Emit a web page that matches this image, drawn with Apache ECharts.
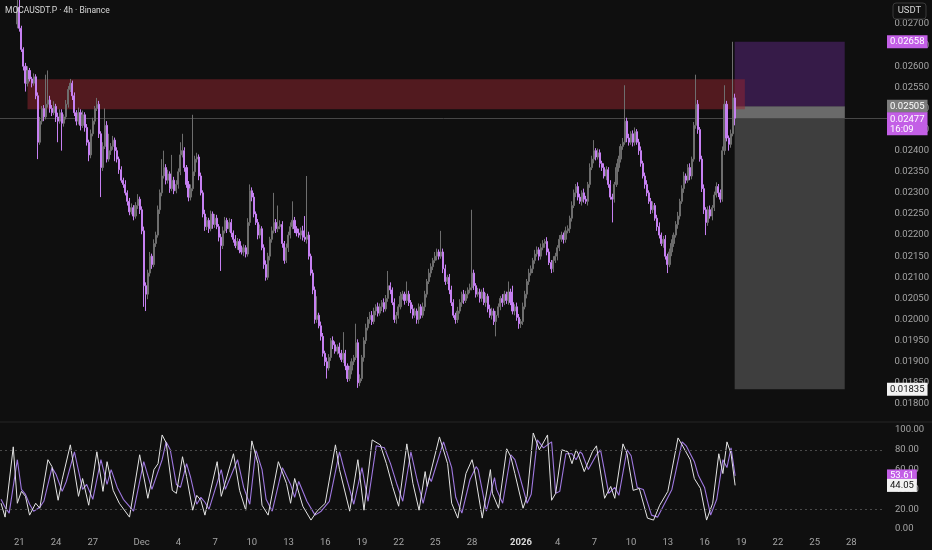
<!DOCTYPE html>
<html><head><meta charset="utf-8">
<script src="https://cdn.jsdelivr.net/npm/echarts@6/dist/echarts.min.js"></script>
<style>html,body{margin:0;padding:0;background:#0f0f0f;}#c{width:932px;height:550px;}</style>
</head><body><div id="c"></div>
<script>
// ---------- data ----------
const symbolTitle = 'MOCAUSDT.P · 4h · Binance';
const quoteCurrency = 'USDT';
const startTimeUTC = Date.UTC(2025, 10, 19, 12); // first 4h slot of the axis
const slotCount = 434;            // 4h slots shown on the time axis
const firstCandleSlot = 8;
const priceUnit = 1e-5;           // closes / wicks are in units of 0.00001 USDT
const firstOpen = 2700;
const closes = [
 2740,2690,2640,2600,2560,2590,2570,2560,2575,2530,
 2420,2470,2500,2480,2510,2520,2500,2490,2505,2480,
 2470,2490,2465,2480,2510,2545,2560,2530,2490,2470,
 2490,2460,2485,2455,2420,2390,2440,2470,2500,2510,
 2440,2360,2410,2460,
 2380,2400,2410,2425,2400,2380,2355,2330,2320,2300,
 2280,2255,2265,2245,2270,2285,2260,2210,2080,2060,
 2110,2150,2130,2180,2200,2260,2300,2340,2360,2330,
 2345,2310,2330,2305,2320,2350,2390,2400,2360,2320,
 2290,2310,2350,2380,2385,2340,2300,2250,2220,2235,
 2215,
 2250,2225,2240,2220,2195,2175,2210,2235,2215,2230,
 2205,2190,2175,2185,2165,2160,2170,2155,2230,2305,
 2290,2250,2230,2200,2215,2170,2130,2100,2150,2190,
 2210,2230,2215,2220,2225,2180,2140,2170,2200,2220,
 2235,2215,2205,2200,2210,2195,2190,2200,2150,2110,
 2070,
 2000,2010,1985,1960,1920,1900,1885,1910,1950,1940,
 1925,1935,1920,1905,1920,1890,1860,1880,1900,1910,
 1945,1850,1860,1910,1950,1980,2000,2010,1995,2020,
 2030,2015,2030,2040,2025,2050,2080,2070,2040,2000,
 2010,2030,2055,2060,2045,2060,2040,2025,2010,2020,
 2000,
 2030,2010,2030,2060,2090,2110,2125,2140,2150,2160,
 2150,2160,2120,2090,2100,2070,2040,2010,2000,2020,
 2040,2060,2045,2060,2070,2075,2110,2080,2060,2065,
 2050,2065,2040,2055,2025,2010,2020,1995,2010,2030,
 2050,2040,2060,2045,2065,2040,2020,2030,2005,1990,
 1995,2030,2060,2090,2110,2120,2140,2155,2165,2150,
 2170,2180,2185,2160,2135,2120,2140,2150,2170,2190,
 2200,2190,2210,2215,2240,2270,2300,2315,2290,2280,
 2300,2285,2280,2320,2360,2380,2400,2385,2395,2370,
 2360,2340,2355,2320,2290,2285,2320,2360,2380,2410,
 2420,2470,2430,2420,2440,2420,2445,2420,2400,2370,
 2340,2320,2300,2280,2260,2270,2240,2220,2200,2180,
 2190,2150,2130,2160,2180,2200,2225,2245,2280,2310,
 2340,2330,2360,2340,2380,
 2460,2510,2450,2380,2310,2260,2230,2260,2245,2265,
 2295,2315,2300,2285,2400,2510,2430,2415,2440,2525,2477
];
const upperWicks = [
 25,20,6,5,8,10,6,5,8,6, 8,10,6,8,70,70,10,8,12,6, 10,8,8,6,10,8,10,6,8,6, 12,8,10,6,8,6,10,8,6,15, 8,6,10,40,
 10,40,8,10,6,8,6,8,6,10, 6,8,10,6,8,12,6,8,10,8, 8,10,6,10,8,10,8,40,40,8, 10,6,60,8,10,8,30,40,8,6, 8,10,135,8,10,6,8,6,10,8, 6,
 8,6,10,8,6,8,10,8,6,10, 8,6,10,8,6,10,8,6,10,15, 8,10,6,8,10,6,8,10,8,6, 10,70,8,50,10,8,6,10,8,10, 45,8,6,10,8,12,50,140,8,6, 8,
 8,45,6,10,8,6,10,8,6,10, 8,6,10,8,50,8,6,10,8,6, 45,8,10,6,8,10,6,8,10,8, 6,10,8,6,10,8,35,8,6,10, 8,6,10,8,6,30,8,6,10,8, 6,
 8,6,10,8,6,10,8,6,10,8, 6,50,8,10,6,8,10,8,6,10, 8,6,10,8,6,10,150,8,6,10, 8,6,10,8,6,10,8,6,10,8, 6,10,8,6,25,8,40,6,10,8,
 6,10,8,6,10,8,6,10,8,6, 10,8,6,10,8,6,10,8,6,10, 8,6,10,8,6,10,8,6,10,8, 6,10,8,6,10,8,25,6,10,8, 6,10,8,6,10,8,6,10,8,6,
 10,85,8,10,6,8,10,6,8,10, 6,8,10,6,8,10,6,8,10,6, 8,10,6,8,10,6,8,10,6,8, 10,6,8,10,6,
 8,70,10,6,8,10,6,8,10,6, 8,10,6,8,10,45,8,6,10,133,10
];
const lowerWicks = [
 10,8,6,10,20,8,6,10,6,8, 40,6,8,10,6,8,10,8,6,12, 50,6,65,8,6,8,6,10,8,10, 8,12,6,10,8,15,8,6,8,6, 10,70,8,6,
 8,6,10,8,25,8,10,6,8,6, 10,8,6,10,6,8,10,8,50,40, 12,8,10,6,8,6,10,8,6,10, 8,10,6,8,6,10,8,6,10,8, 10,8,6,10,8,10,6,8,10,8, 10,
 6,10,8,6,10,60,8,6,10,8, 10,8,6,10,8,6,10,8,6,8, 10,8,6,10,8,6,10,8,6,10, 8,6,10,8,6,10,8,6,10,8, 6,10,8,6,10,8,6,10,8,6, 10,
 10,8,6,10,8,10,25,6,8,10, 6,8,10,6,8,10,8,6,10,8, 6,12,8,6,10,8,6,10,8,6, 10,8,6,10,8,6,8,10,6,8, 10,8,6,8,10,6,8,10,8,6, 10,
 10,8,6,10,8,6,10,8,6,10, 8,6,10,8,6,10,8,6,10,8, 6,10,8,6,10,8,6,10,8,6, 10,8,6,10,8,6,10,8,35,6, 8,10,6,8,10,6,8,10,8,12,
 10,8,6,10,8,6,10,8,6,10, 8,6,10,8,6,10,8,6,10,8, 6,10,8,6,10,8,6,10,8,6, 10,8,6,10,8,6,10,8,6,10, 8,6,10,8,6,55,8,6,10,8,
 8,6,10,8,6,10,8,6,10,8, 6,10,8,6,10,8,6,10,8,6, 10,8,20,6,10,8,6,10,8,6, 10,8,6,10,8,
 6,8,10,6,8,10,30,8,6,10, 8,6,10,8,6,10,8,15,8,6,17
];
// stochastic oscillator vertices: [slot, value]
const stochK = [[0,26],[2,12],[6,83],[8,26],[10,38],[12,33],[14,14],[17,26],[19,21],[23,70],[25,63],[28,29],[30,50],[34,85],[38,33],[40,51],[43,24],[47,78],[50,38],[52,68],[55,39],[58,26],[63,12],[68,75],[72,31],[75,60],[77,66],[79,95],[81,87],[84,39],[86,36],[89,73],[91,53],[94,19],[96,34],[98,29],[100,14],[106,68],[108,33],[114,76],[117,39],[120,19],[123,89],[126,66],[128,24],[131,14],[136,68],[140,46],[142,26],[144,51],[148,23],[152,9],[155,18],[159,26],[164,85],[166,60],[171,18],[175,70],[178,19],[182,90],[186,85],[189,66],[192,43],[195,23],[199,86],[202,46],[205,19],[208,58],[209,43],[215,93],[219,66],[221,26],[224,11],[228,56],[231,70],[232,61],[236,11],[240,60],[241,36],[244,21],[248,81],[250,73],[252,56],[256,21],[258,33],[261,97],[264,80],[268,95],[270,29],[272,36],[275,80],[278,78],[280,66],[282,80],[283,76],[286,58],[290,78],[292,84],[296,31],[299,43],[301,31],[305,86],[307,76],[310,39],[313,41],[317,11],[320,9],[323,24],[327,38],[332,92],[334,85],[338,70],[340,51],[343,41],[346,9],[349,26],[352,76],[354,56],[356,88],[358,76],[360,44.05]];
const stochD = [[0,30],[2,22],[4,16],[8,70],[10,40],[12,35],[14,25],[16,18],[19,22],[21,28],[25,62],[27,55],[30,38],[32,48],[36,78],[40,40],[42,45],[45,30],[49,70],[52,45],[54,60],[57,42],[60,30],[65,18],[70,68],[74,40],[77,58],[79,70],[81,88],[83,80],[86,45],[88,42],[91,66],[93,52],[96,25],[98,32],[100,27],[102,20],[108,60],[110,40],[116,70],[119,42],[122,25],[125,80],[128,60],[130,30],[133,18],[138,62],[142,45],[144,32],[146,48],[150,28],[154,14],[157,18],[161,28],[166,78],[168,62],[173,25],[177,62],[180,28],[184,84],[188,82],[191,66],[194,46],[197,28],[201,78],[204,50],[207,26],[210,52],[211,48],[217,88],[221,62],[223,32],[226,16],[230,50],[233,63],[234,60],[238,18],[242,52],[243,40],[246,26],[250,75],[252,70],[254,56],[258,26],[260,35],[263,90],[266,82],[270,88],[272,36],[274,38],[277,76],[280,76],[282,70],[284,78],[285,76],[288,60],[292,75],[294,80],[298,36],[301,42],[303,34],[307,80],[309,74],[312,42],[315,40],[319,14],[322,12],[325,24],[329,40],[334,88],[336,84],[340,68],[342,54],[345,42],[348,14],[351,30],[354,70],[356,62],[358,82],[360,53.61]];
const stochLevels = [80, 20];
const tickLabels = [
 ['2025-11-21','21'],['2025-11-24','24'],['2025-11-27','27'],['2025-12-01','Dec'],['2025-12-04','4'],['2025-12-07','7'],
 ['2025-12-10','10'],['2025-12-13','13'],['2025-12-16','16'],['2025-12-19','19'],['2025-12-22','22'],['2025-12-25','25'],
 ['2025-12-28','28'],['2026-01-01','2026'],['2026-01-04','4'],['2026-01-07','7'],['2026-01-10','10'],['2026-01-13','13'],
 ['2026-01-16','16'],['2026-01-19','19'],['2026-01-22','22'],['2026-01-25','25'],['2026-01-28','28']
];
const priceAxis = {min: 0.0175, max: 0.02757, interval: 0.0005};
const resistanceZone = {from: '2025-11-21 16:00', to: '2026-01-19 08:00', top: 0.02569, bottom: 0.02498};
const positionTool = {from: '2026-01-18 12:00', to: '2026-01-27 12:00', target: 0.02658, entry: 0.02505, stop: 0.01835};
const lastPrice = 0.02477;
const barCountdown = '16:09';
const stochLast = {k: 44.05, d: 53.61};

// ---------- build ----------
const categories = [];
for (let i = 0; i < slotCount; i++) {
  const d = new Date(startTimeUTC + i * 4 * 3600e3);
  categories.push(d.toISOString().slice(0, 13).replace('T', ' ') + ':00');
}
const labelMap = {};
tickLabels.forEach(([d, t]) => { labelMap[d + ' 00:00'] = t; });

const candles = [];
for (let i = 0; i < firstCandleSlot; i++) candles.push(['-', '-', '-', '-']);
let prevClose = firstOpen;
closes.forEach((c, j) => {
  const o = prevClose;
  const hi = Math.max(o, c) + upperWicks[j];
  const lo = Math.min(o, c) - lowerWicks[j];
  candles.push([o * priceUnit, c * priceUnit, lo * priceUnit, hi * priceUnit]);
  prevClose = c;
});

const FONT = 'Roboto, "Noto Sans", sans-serif';
const AX = '#a4a4a4';
const chart = echarts.init(document.getElementById('c'), null, {renderer: 'canvas'});
const option = {
  backgroundColor: '#0f0f0f',
  animation: false,
  grid: [
    {left: 0, right: 47, top: 0, height: 425},
    {left: 0, right: 47, top: 430, height: 99}
  ],
  xAxis: [
    {type: 'category', gridIndex: 0, data: categories, boundaryGap: true,
     axisLine: {show: false}, axisTick: {show: false}, axisLabel: {show: false}, splitLine: {show: false}},
    {type: 'category', gridIndex: 1, data: categories, boundaryGap: true,
     axisLine: {show: false}, axisTick: {show: false}, splitLine: {show: false},
     axisLabel: {
       color: AX, fontSize: 9.5, fontFamily: FONT, margin: 9,
       interval: (idx, val) => labelMap[val] !== undefined,
       formatter: val => labelMap[val] === '2026' ? '{b|2026}' : (labelMap[val] || ''),
       rich: {b: {fontWeight: 'bold', color: '#dcdcdc', fontSize: 9.5, fontFamily: FONT}}
     }}
  ],
  yAxis: [
    {type: 'value', gridIndex: 0, position: 'right', min: priceAxis.min, max: priceAxis.max, interval: priceAxis.interval,
     axisLine: {show: false}, axisTick: {show: false}, splitLine: {show: false},
     axisLabel: {color: AX, fontSize: 9.5, fontFamily: FONT, margin: 10, showMinLabel: false,
       formatter: v => (v < 0.01755 || v > 0.02745) ? '' : v.toFixed(5)}},
    {type: 'value', gridIndex: 1, position: 'right', min: 0, max: 100, interval: 20,
     axisLine: {show: false}, axisTick: {show: false}, splitLine: {show: false},
     axisLabel: {color: AX, fontSize: 9.5, fontFamily: FONT, margin: 10, formatter: v => v.toFixed(2)}}
  ],
  series: [
    {type: 'line', xAxisIndex: 0, yAxisIndex: 0, data: [], z: 1, silent: true,
     markArea: {silent: true, data: [
       [{xAxis: positionTool.from, yAxis: positionTool.entry, itemStyle: {color: '#3e3e3e'}}, {xAxis: positionTool.to, yAxis: positionTool.stop}],
       [{xAxis: positionTool.from, yAxis: positionTool.entry, itemStyle: {color: '#6a6a6a'}}, {xAxis: positionTool.to, yAxis: lastPrice}],
       [{xAxis: positionTool.from, yAxis: positionTool.target, itemStyle: {color: '#361b48'}}, {xAxis: positionTool.to, yAxis: positionTool.entry}]
     ]}},
    {type: 'line', xAxisIndex: 0, yAxisIndex: 0, data: [], z: 2, silent: true,
     markArea: {silent: true, data: [
       [{xAxis: resistanceZone.from, yAxis: resistanceZone.top, itemStyle: {color: 'rgba(150,38,48,0.5)'}}, {xAxis: resistanceZone.to, yAxis: resistanceZone.bottom}]
     ]}},
    {type: 'candlestick', xAxisIndex: 0, yAxisIndex: 0, data: candles, z: 5, barWidth: 1.6,
     itemStyle: {color: '#666666', color0: '#c680f2', borderColor: '#6e6e6e', borderColor0: '#c680f2', borderWidth: 1}},
    {type: 'line', xAxisIndex: 1, yAxisIndex: 1, data: stochD, symbol: 'none', z: 3,
     lineStyle: {color: '#9f78e0', width: 1.1}},
    {type: 'line', xAxisIndex: 1, yAxisIndex: 1, data: stochK, symbol: 'none', z: 4,
     lineStyle: {color: '#e4e4e4', width: 1},
     markLine: {silent: true, symbol: ['none', 'none'], label: {show: false},
       lineStyle: {color: '#4a4a4a', width: 1, type: [2, 3]}, data: stochLevels.map(v => ({yAxis: v}))}}
  ]
};
chart.setOption(option);

const yP = v => chart.convertToPixel({yAxisIndex: 0}, v);
const yO = v => chart.convertToPixel({yAxisIndex: 1}, v);
const tag = (y, text, bg, fg, va) => ({
  type: 'text', x: 887, y: y, z: 100,
  style: {text: text, fill: fg, backgroundColor: bg, padding: [2, 3, 1, 3], font: '9.5px ' + FONT,
          align: 'left', verticalAlign: va || 'middle', lineHeight: 10}
});
const lastY = Math.round(yP(lastPrice)) + 0.5;
chart.setOption({graphic: [
  {type: 'line', shape: {x1: 0, y1: lastY, x2: 887, y2: lastY}, style: {stroke: '#474747', lineWidth: 1}, z: 1, silent: true},
  {type: 'rect', shape: {x: 0, y: 421.5, width: 932, height: 1}, style: {fill: '#262626'}, z: 50},
  {type: 'text', x: 5, y: 11, z: 100, style: {text: symbolTitle, fill: '#d8d8d8', font: '8.5px ' + FONT, verticalAlign: 'middle'}},
  {type: 'rect', shape: {x: 893, y: 3, width: 33, height: 16, r: 3}, style: {fill: '#111', stroke: '#3a3a3a', lineWidth: 1}, z: 100},
  {type: 'text', x: 909.5, y: 11, z: 101, style: {text: quoteCurrency, fill: '#d4d4d4', font: '9.5px ' + FONT, align: 'center', verticalAlign: 'middle'}},
  tag(yP(positionTool.target), positionTool.target.toFixed(5), '#c35fe6', '#ffffff'),
  tag(yP(positionTool.entry), positionTool.entry.toFixed(5), '#7c7c7c', '#ffffff'),
  tag(yP(lastPrice) - 6, lastPrice.toFixed(5) + '\n' + barCountdown, '#c35fe6', '#ffffff', 'top'),
  tag(yP(positionTool.stop), positionTool.stop.toFixed(5), '#f2f2f2', '#111111'),
  tag(yO(stochLast.d), stochLast.d.toFixed(2), '#c35fe6', '#ffffff'),
  tag(yO(stochLast.k), stochLast.k.toFixed(2), '#f2f2f2', '#111111')
]});
</script></body></html>
